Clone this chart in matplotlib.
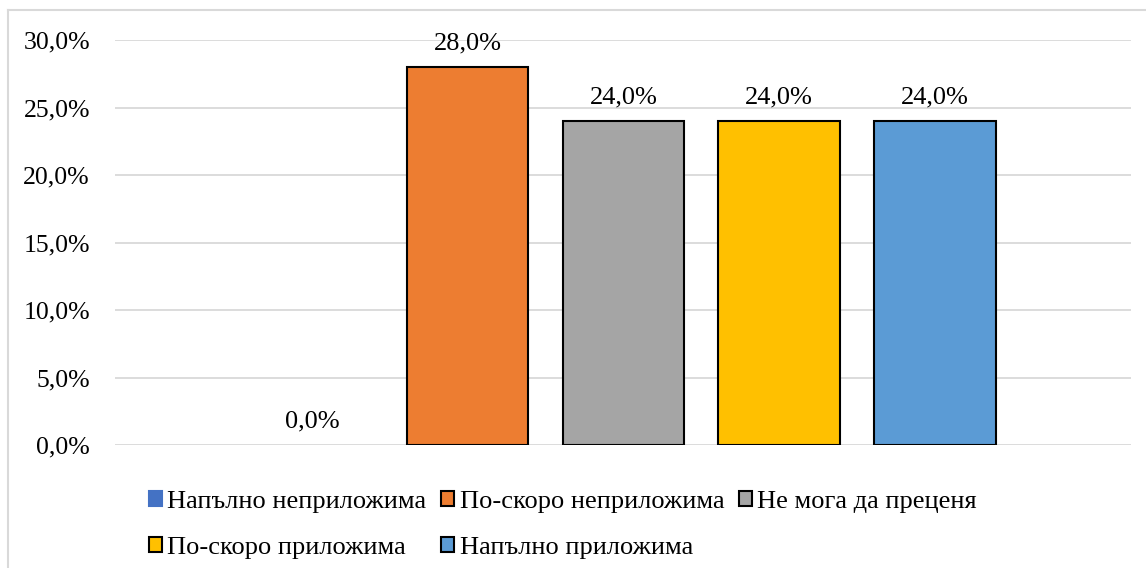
import matplotlib.pyplot as plt
from matplotlib.lines import Line2D
from matplotlib.patches import Patch
from matplotlib.ticker import FuncFormatter

# Data
categories = ["Напълно неприложима", "По-скоро неприложима", "Не мога да преценя",
              "По-скоро приложима", "Напълно приложима"]
values = [0.0, 28.0, 24.0, 24.0, 24.0]
colors = ["#4472C4", "#ED7D31", "#A5A5A5", "#FFC000", "#5B9BD5"]
yticks = [0, 5, 10, 15, 20, 25, 30]


def pct(v, pos=None):
    return "{:.1f}%".format(v).replace(".", ",")


plt.rcParams['font.family'] = ['Liberation Serif', 'DejaVu Serif']

fig = plt.figure(figsize=(11.46, 5.68), dpi=100)
ax = fig.add_axes([115 / 1146, 1 - 445 / 568, (1131 - 115) / 1146, (445 - 40) / 568])

for i, (v, c) in enumerate(zip(values, colors)):
    ax.bar(i, v, width=0.78, color=c, edgecolor="black",
           linewidth=1.5 if v > 0 else 0, zorder=3)
    ax.text(i, v + 0.9, pct(v), ha="center", va="bottom", fontsize=19, zorder=4)

ax.set_xlim(-1.265, 5.26)
ax.set_ylim(0, 30)
ax.set_yticks(yticks)
ax.yaxis.set_major_formatter(FuncFormatter(pct))
ax.set_xticks([])
ax.tick_params(axis="y", length=0, labelsize=18.5, pad=18)
ax.grid(axis="y", color="#D9D9D9", linewidth=1.3, zorder=0)
for s in ax.spines.values():
    s.set_visible(False)

# legend: matplotlib fills columns first, so reorder to get row-wise layout
handles = []
for i, (name, c) in enumerate(zip(categories, colors)):
    ec = c if i == 0 else "black"
    handles.append(Patch(facecolor=c, edgecolor=ec, linewidth=1.5, label=name))
order = [0, 3, 1, 4, 2]
handles = [handles[k] for k in order]
fig.legend(handles=handles, loc="upper left", bbox_to_anchor=(149 / 1146, 1 - 491 / 568),
           ncol=3, frameon=False, fontsize=19, handlelength=0.5, handleheight=0.5,
           handletextpad=0.2, columnspacing=0.55, labelspacing=0.92, borderaxespad=0,
           borderpad=0)

# chart border (left and top)
fig.add_artist(Line2D([8 / 1146, 8 / 1146], [0, 1 - 10 / 568], color="#D9D9D9", linewidth=1.5))
fig.add_artist(Line2D([8 / 1146, 1], [1 - 10 / 568, 1 - 10 / 568], color="#D9D9D9", linewidth=1.5))

fig.savefig("out.png", dpi=100)
